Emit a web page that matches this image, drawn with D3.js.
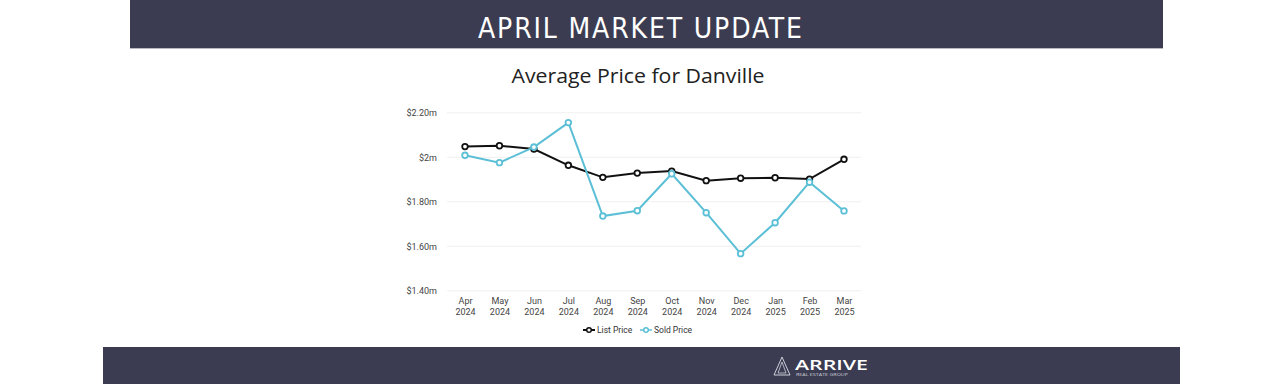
<!DOCTYPE html>
<html><head><meta charset="utf-8">
<script src="https://cdn.jsdelivr.net/npm/d3@7"></script>
<style>
html,body{margin:0;padding:0;background:#fff;}
svg{display:block;}
</style></head>
<body>
<svg id="c" width="1280" height="384"></svg>
<script>
const months = ["Apr","May","Jun","Jul","Aug","Sep","Oct","Nov","Dec","Jan","Feb","Mar"];
const years  = ["2024","2024","2024","2024","2024","2024","2024","2024","2024","2025","2025","2025"];
const listPrice = [2.048,2.052,2.037,1.964,1.910,1.929,1.938,1.895,1.906,1.908,1.902,1.991];
const soldPrice = [2.009,1.976,2.046,2.156,1.736,1.760,1.926,1.751,1.567,1.706,1.888,1.759];
const yTicks = [1.4,1.6,1.8,2.0,2.2];
const yTickLabels = ["$1.40m","$1.60m","$1.80m","$2m","$2.20m"];
const seriesNames = ["List Price","Sold Price"];
const seriesColors = ["#111111","#5bbfd6"];

const svg = d3.select("#c");
const bar = "#3b3c51";

// header
svg.append("rect").attr("x",130).attr("y",0).attr("width",1033).attr("height",48).attr("fill",bar);
svg.append("rect").attr("x",130).attr("y",47).attr("width",1033).attr("height",1.5).attr("fill",bar).attr("opacity",0.7);
svg.append("text").attr("x",640).attr("y",38).attr("text-anchor","middle")
  .attr("fill","#fff").attr("font-family","'DejaVu Sans Condensed','DejaVu Sans',sans-serif")
  .attr("font-size",28).attr("textLength",324).attr("lengthAdjust","spacing")
  .text("APRIL MARKET UPDATE");

// footer
svg.append("rect").attr("x",103).attr("y",347).attr("width",1077).attr("height",37).attr("fill",bar);
const logo = svg.append("g");
logo.append("path").attr("d","M782 357 L774 375 L790 375 Z").attr("fill","none").attr("stroke","#cfd0da").attr("stroke-width",1);
logo.append("path").attr("d","M782 362 L778 373 L786 373 Z").attr("fill","none").attr("stroke","#cfd0da").attr("stroke-width",0.8);
logo.append("text").attr("x",795).attr("y",370).attr("fill","#fff")
  .attr("font-family","'Open Sans',sans-serif").attr("font-weight",600).attr("font-size",15)
  .attr("textLength",73).attr("lengthAdjust","spacingAndGlyphs").text("ARRIVE");
logo.append("text").attr("x",796).attr("y",376).attr("fill","#cfd0da")
  .attr("font-family","'Open Sans',sans-serif").attr("font-size",4)
  .attr("textLength",52).attr("lengthAdjust","spacingAndGlyphs").text("REAL ESTATE GROUP");

// title
svg.append("text").attr("x",638).attr("y",83).attr("text-anchor","middle")
  .attr("fill","#222").attr("font-family","'Open Sans',sans-serif").attr("font-size",20.5)
  .attr("textLength",253).attr("lengthAdjust","spacingAndGlyphs")
  .text("Average Price for Danville");

// scales
const x = d3.scalePoint().domain(d3.range(months.length)).range([465,844]);
const y = d3.scaleLinear().domain([1.4,2.2]).range([290.8,112.8]);

// grid
const grid = svg.append("g");
grid.selectAll("line").data(yTicks).join("line")
  .attr("x1",447).attr("x2",861).attr("y1",d=>y(d)).attr("y2",d=>y(d))
  .attr("stroke","#f0f0f0").attr("stroke-width",1);

// y axis labels
const yAxis = d3.axisLeft(y).tickValues(yTicks).tickSize(0).tickPadding(0)
  .tickFormat((d,i)=>yTickLabels[i]);
const gy = svg.append("g").attr("transform","translate(437,0)").call(yAxis);
gy.select(".domain").remove();
gy.selectAll("text").attr("font-family","Roboto,sans-serif").attr("font-size",9).attr("fill","#444").attr("dy","0.32em");

// x axis labels
const xAxis = d3.axisBottom(x).tickSize(0).tickPadding(0).tickFormat(()=> "");
const gx = svg.append("g").attr("transform","translate(0,296)").call(xAxis);
gx.select(".domain").remove();
gx.selectAll(".tick text").each(function(d){
  const t = d3.select(this).attr("font-family","Roboto,sans-serif").attr("font-size",9).attr("fill","#444").attr("dy",null).attr("y",0);
  t.append("tspan").attr("x",0).attr("y",8).text(months[d]);
  t.append("tspan").attr("x",0).attr("y",18.5).text(years[d]);
});

// lines
const data = [listPrice, soldPrice];
const line = d3.line().x((d,i)=>x(i)).y(d=>y(d));
[0,1].forEach(s=>{
  const g = svg.append("g");
  g.append("path").datum(data[s]).attr("d",line).attr("fill","none")
    .attr("stroke",seriesColors[s]).attr("stroke-width",2);
  g.selectAll("circle").data(data[s]).join("circle")
    .attr("cx",(d,i)=>x(i)).attr("cy",d=>y(d)).attr("r",2.8)
    .attr("fill","#fff").attr("stroke",seriesColors[s]).attr("stroke-width",1.8);
});

// legend
const legX = [583,640];
const leg = svg.append("g");
seriesNames.forEach((n,i)=>{
  const lx = legX[i];
  leg.append("line").attr("x1",lx).attr("x2",lx+12).attr("y1",330).attr("y2",330)
    .attr("stroke",seriesColors[i]).attr("stroke-width",i===0?2:1.5);
  leg.append("circle").attr("cx",lx+6).attr("cy",330).attr("r",2.3)
    .attr("fill","#fff").attr("stroke",seriesColors[i]).attr("stroke-width",1.5);
  leg.append("text").attr("x",lx+14).attr("y",333).attr("font-family","Roboto,sans-serif")
    .attr("font-size",8.5).attr("fill","#333").text(n);
});
</script>
</body></html>
